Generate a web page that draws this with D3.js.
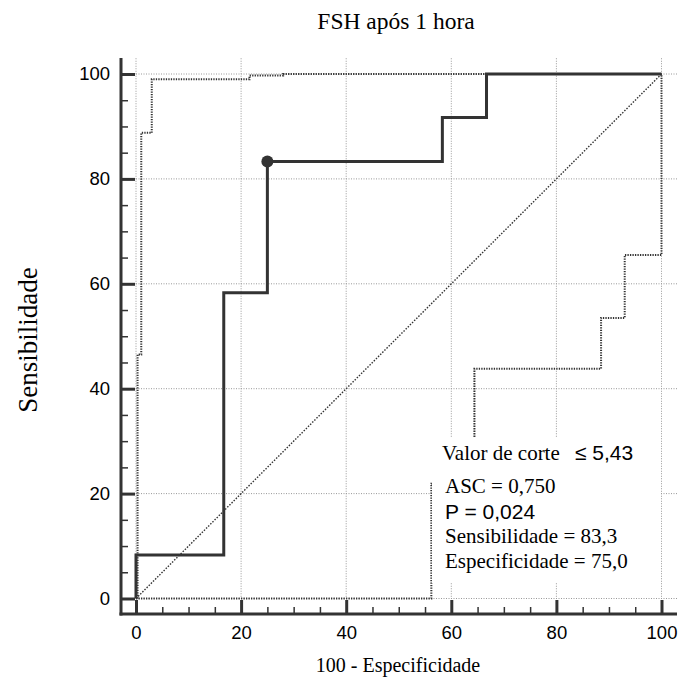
<!DOCTYPE html>
<html>
<head>
<meta charset="utf-8">
<script src="https://cdn.jsdelivr.net/npm/d3@7"></script>
<style>
  body { margin: 0; background: #fff; }
  svg { display: block; }
  .serif { font-family: "Liberation Serif", "Times New Roman", serif; }
  .sans { font-family: "Liberation Sans", Arial, sans-serif; }
</style>
</head>
<body>
<svg id="chart" width="683" height="684"></svg>
<script>
// ROC curve corners (100 - especificidade, sensibilidade)
const rocX = [0, 0, 16.7, 16.7, 25, 25, 58.3, 58.3, 66.7, 66.7, 100]
const rocY = [0, 8.3, 8.3, 58.3, 58.3, 83.3, 83.3, 91.7, 91.7, 100, 100]

// confidence bands
const upperX = [0.3, 0.3, 1, 1, 3, 3, 21.6, 21.6, 28, 28, 100]
const upperY = [0, 46.5, 46.5, 88.8, 88.8, 99, 99, 99.7, 99.7, 100, 100]
const lowerX = [0, 56.2, 56.2, 64.4, 64.4, 88.5, 88.5, 93, 93, 100, 100]
const lowerY = [0, 0, 21.9, 21.9, 43.8, 43.8, 53.5, 53.5, 65.5, 65.5, 100]

// cut-off point
const cutPoint = { x: 25, y: 83.3 }

const majorTicks = [0, 20, 40, 60, 80, 100]
const minorTicks = d3.range(0, 101, 5).filter(v => v % 20 !== 0)

const title = 'FSH após 1 hora'
const xTitle = '100 - Especificidade'
const yTitle = 'Sensibilidade'

const svg = d3.select('#chart')

const x = d3.scaleLinear().domain([0, 100]).range([136, 661.5])
const y = d3.scaleLinear().domain([0, 100]).range([598.5, 74])

const axisLeftX = 121
const axisBottomY = 614
const ink = '#333'

// grid
const grid = svg.append('g')
  .attr('stroke', '#999')
  .attr('stroke-width', 1)
  .attr('stroke-dasharray', '1,1.5')
grid.selectAll('line.v')
  .data(majorTicks)
  .join('line')
  .attr('class', 'v')
  .attr('x1', d => x(d)).attr('x2', d => x(d))
  .attr('y1', y(103)).attr('y2', y(0))
grid.selectAll('line.h')
  .data(majorTicks)
  .join('line')
  .attr('class', 'h')
  .attr('y1', d => y(d)).attr('y2', d => y(d))
  .attr('x1', x(0)).attr('x2', x(103))

const pts = (xs, ys) => xs.map((v, i) => [v, ys[i]])
const line = d3.line().x(d => x(d[0])).y(d => y(d[1]))

// diagonal
svg.append('path')
  .attr('d', line([[0, 0], [100, 100]]))
  .attr('fill', 'none')
  .attr('stroke', '#333')
  .attr('stroke-width', 1.4)
  .attr('stroke-dasharray', '1.5,1.5')

// confidence bands
svg.selectAll('path.band')
  .data([pts(upperX, upperY), pts(lowerX, lowerY)])
  .join('path')
  .attr('class', 'band')
  .attr('d', line)
  .attr('fill', 'none')
  .attr('stroke', '#333')
  .attr('stroke-width', 2)
  .attr('stroke-dasharray', '1.3,1.2')

// legend box hides what is behind it
svg.append('rect')
  .attr('x', 432).attr('y', 437)
  .attr('width', 228).attr('height', 146)
  .attr('fill', '#fff')

// ROC curve
svg.append('path')
  .attr('d', line(pts(rocX, rocY)))
  .attr('fill', 'none')
  .attr('stroke', ink)
  .attr('stroke-width', 3)
  .attr('stroke-linejoin', 'miter')

svg.append('circle')
  .attr('cx', x(cutPoint.x))
  .attr('cy', y(cutPoint.y))
  .attr('r', 6)
  .attr('fill', ink)

// axes
const yAxis = svg.append('g')
  .attr('transform', `translate(${axisLeftX},0)`)
  .call(d3.axisLeft(y).tickValues(majorTicks).tickSize(-14).tickPadding(11))
const yMinor = svg.append('g')
  .attr('transform', `translate(${axisLeftX},0)`)
  .call(d3.axisLeft(y).tickValues(minorTicks).tickSize(-7).tickFormat(''))
const xAxis = svg.append('g')
  .attr('transform', `translate(0,${axisBottomY})`)
  .call(d3.axisBottom(x).tickValues(majorTicks).tickSize(-14).tickPadding(12))
const xMinor = svg.append('g')
  .attr('transform', `translate(0,${axisBottomY})`)
  .call(d3.axisBottom(x).tickValues(minorTicks).tickSize(-7).tickFormat(''))

;[yAxis, yMinor, xAxis, xMinor].forEach(g => {
  g.select('.domain').remove()
  g.selectAll('text')
    .attr('class', 'sans')
    .attr('font-family', null)
    .style('font-size', '18.5px')
    .attr('fill', '#000')
})
;[yAxis, xAxis].forEach(g => g.selectAll('line').attr('stroke', ink).attr('stroke-width', 3))
;[yMinor, xMinor].forEach(g => g.selectAll('line').attr('stroke', ink).attr('stroke-width', 1.5))

svg.append('line')
  .attr('x1', axisLeftX).attr('x2', axisLeftX)
  .attr('y1', 58).attr('y2', axisBottomY + 1.5)
  .attr('stroke', ink).attr('stroke-width', 3)
svg.append('line')
  .attr('x1', axisLeftX - 1.5).attr('x2', 677)
  .attr('y1', axisBottomY).attr('y2', axisBottomY)
  .attr('stroke', ink).attr('stroke-width', 3)

// titles
svg.append('text')
  .attr('class', 'serif')
  .attr('x', 396).attr('y', 29)
  .attr('text-anchor', 'middle')
  .style('font-size', '23.5px')
  .text(title)
svg.append('text')
  .attr('class', 'serif')
  .attr('x', 398).attr('y', 672)
  .attr('text-anchor', 'middle')
  .style('font-size', '20px')
  .text(xTitle)
svg.append('text')
  .attr('class', 'serif')
  .attr('transform', 'translate(37,340) rotate(-90)')
  .attr('text-anchor', 'middle')
  .style('font-size', '27px')
  .text(yTitle)

// legend
const legend = svg.append('g').style('font-size', '21px')
legend.append('text').attr('class', 'serif').attr('x', 442).attr('y', 460).text('Valor de corte')
legend.append('text').attr('class', 'sans').attr('x', 575).attr('y', 460).text('≤ 5,43')
legend.append('text').attr('class', 'serif').attr('x', 445).attr('y', 493).text('ASC = 0,750')
legend.append('text').attr('class', 'sans').attr('x', 445).attr('y', 519).text('P = 0,024')
legend.append('text').attr('class', 'serif').attr('x', 445).attr('y', 543).text('Sensibilidade = 83,3')
legend.append('text').attr('class', 'serif').attr('x', 445).attr('y', 568).text('Especificidade = 75,0')
</script>
</body>
</html>
